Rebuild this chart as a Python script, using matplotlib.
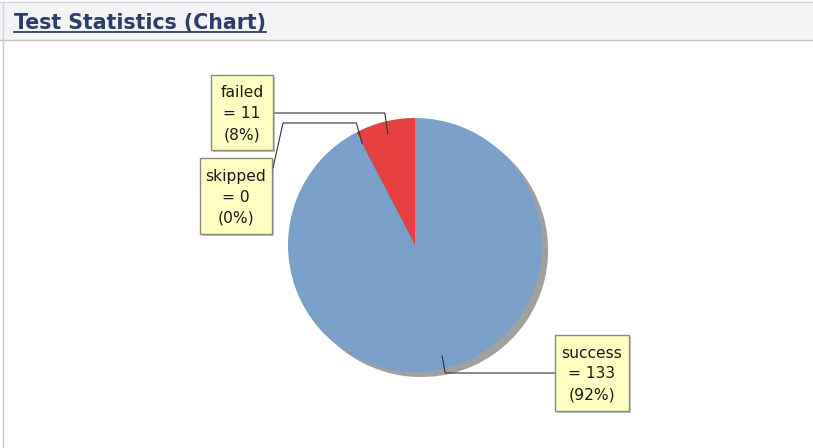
import numpy as np
import matplotlib
matplotlib.use("Agg")
import matplotlib.pyplot as plt
from matplotlib.patches import Rectangle

title = "Test Statistics (Chart)"
categories = ["success", "skipped", "failed"]
values = [133, 0, 11]
percents = ["92%", "0%", "8%"]
colors = ["#7a9fc9", "#e0e060", "#e53f3f"]

W, H = 813, 448
fig = plt.figure(figsize=(W / 100, H / 100), dpi=100)
fig.patch.set_facecolor("white")

# overlay axes in pixel coords
ov = fig.add_axes([0, 0, 1, 1])
ov.set_xlim(0, W)
ov.set_ylim(H, 0)
ov.axis("off")
ov.set_zorder(3)
ov.patch.set_alpha(0)

# header band
bg = fig.add_axes([0, 0, 1, 1])
bg.set_xlim(0, W)
bg.set_ylim(H, 0)
bg.axis("off")
bg.set_zorder(0)
bg.add_patch(Rectangle((0, 2), W, 39, facecolor="#f4f4f7", edgecolor="none"))
bg.plot([0, W], [2.5, 2.5], color="#d4d4d8", lw=1)
bg.plot([0, W], [40.5, 40.5], color="#c4c4c8", lw=1)
bg.plot([2.5, 2.5], [41, H], color="#c8c8cc", lw=1)
bg.plot([2.5, 2.5], [2, 41], color="#d4d4d8", lw=1)
t = bg.text(14, 29, title, fontsize=14.8, fontweight="bold", color="#2c3d6b",
            family="DejaVu Sans", va="baseline", ha="left")
fig.canvas.draw()
bb = t.get_window_extent()
x_end = bb.x1
bg.plot([14, x_end], [32.5, 32.5], color="#2c3d6b", lw=1.3)

# pie
cx, cy, r = 415, 245, 127
ax = fig.add_axes([(cx - r) / W, (H - cy - r) / H, 2 * r / W, 2 * r / H])
ax.set_zorder(2)
ax.axis("off")
ax.pie(values, colors=["#a0a0a0"] * len(values), startangle=90, counterclock=False,
       center=(0.048, -0.04), radius=1.0, wedgeprops=dict(linewidth=0))
wedges, _ = ax.pie(values, colors=colors, startangle=90, counterclock=False,
                   radius=1.0, wedgeprops=dict(linewidth=0))
for w in wedges:
    w.set_edgecolor("none")
ax.set_xlim(-1.0, 1.0)
ax.set_ylim(-1.0, 1.0)

# anchor points from wedge angles
def anchor(w, rr=1.0):
    a = np.deg2rad((w.theta1 + w.theta2) / 2)
    return cx + r * rr * np.cos(a), cy - r * rr * np.sin(a)

# label boxes: (left, top, width, height)
boxes = {
    "failed": (211, 75, 62, 75),
    "skipped": (200, 158, 72, 76),
    "success": (555, 335, 74, 76),
}
def draw_box(name, val, pct):
    x0, y0, bw, bh = boxes[name]
    ov.add_patch(Rectangle((x0 + 2, y0 + 2), bw, bh, facecolor="#c8c8c8", edgecolor="none", zorder=4))
    ov.add_patch(Rectangle((x0, y0), bw, bh, facecolor="#ffffc4", edgecolor="#8a8a7a", lw=1, zorder=5))
    ov.text(x0 + bw / 2, y0 + bh / 2 + 1, f"{name}\n= {val}\n({pct})", ha="center", va="center",
            fontsize=11.2, linespacing=1.5, color="#1a1a1a", zorder=6, family="DejaVu Sans")

lc = "#333333"
for name, val, pct, w in zip(categories, values, percents, wedges):
    draw_box(name, val, pct)
    ax_, ay_ = anchor(w)
    ix, iy = anchor(w, 0.9)
    if name == "failed":
        ov.plot([273, ax_, ix], [113, 113, iy], color=lc, lw=0.8, zorder=4)
    elif name == "skipped":
        ov.plot([273, 283, ax_, ix], [168, 123, 123, iy], color=lc, lw=0.8, zorder=4)
    else:
        ov.plot([ix, ax_, 555], [iy, 373, 373], color=lc, lw=0.8, zorder=4)

fig.savefig("out.png", dpi=100)
